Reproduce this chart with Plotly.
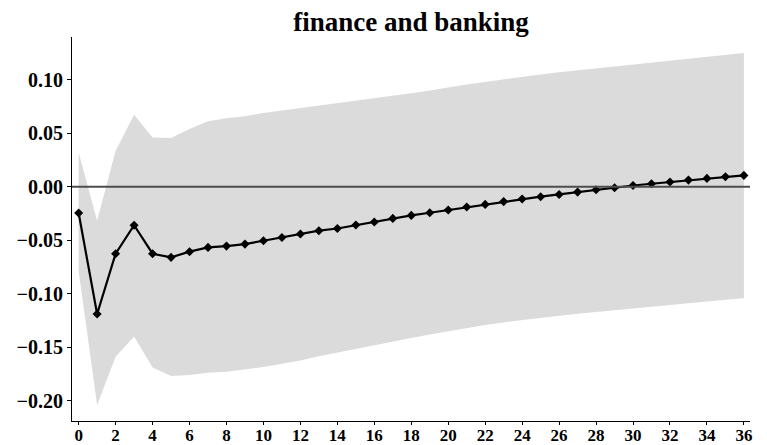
import plotly.graph_objects as go

periods = list(range(37))
response = [-0.0246, -0.119, -0.0626, -0.036, -0.0626, -0.066, -0.0607, -0.0567, -0.0555, -0.0536,
            -0.0505, -0.0474, -0.0442, -0.0411, -0.039, -0.0358, -0.033, -0.0296, -0.0268, -0.0243,
            -0.0217, -0.019, -0.0165, -0.0139, -0.0115, -0.0093, -0.0072, -0.005, -0.0028, -0.0009,
            0.0012, 0.0028, 0.0044, 0.0062, 0.0078, 0.0093, 0.0106]
upper = [0.032, -0.0318, 0.0336, 0.0673, 0.046, 0.0455, 0.054, 0.0612, 0.064, 0.066,
         0.069, 0.0713, 0.0735, 0.076, 0.078, 0.080, 0.0825, 0.085, 0.0873, 0.090,
         0.093, 0.0955, 0.098, 0.1005, 0.103, 0.105, 0.107, 0.1088, 0.1106, 0.1125,
         0.1144, 0.1163, 0.118, 0.1198, 0.1215, 0.1233, 0.125]
lower = [-0.079, -0.204, -0.159, -0.140, -0.169, -0.177, -0.176, -0.174, -0.173, -0.171,
         -0.1685, -0.1655, -0.1625, -0.1585, -0.155, -0.1515, -0.148, -0.1447, -0.1415, -0.1382,
         -0.135, -0.132, -0.1293, -0.1268, -0.1245, -0.1225, -0.1205, -0.1187, -0.117, -0.1152,
         -0.1135, -0.1118, -0.1102, -0.1087, -0.1072, -0.1057, -0.1042]
x_ticks = list(range(0, 37, 2))
y_ticks = [-0.20, -0.15, -0.10, -0.05, 0.00, 0.05, 0.10]
y_tick_text = ["\u22120.20", "\u22120.15", "\u22120.10", "\u22120.05", "0.00", "0.05", "0.10"]

font_family = "Liberation Serif"

fig = go.Figure()
fig.add_trace(go.Scatter(x=periods, y=upper, mode="lines", line=dict(width=0, color="#dbdbdb"),
                         showlegend=False, hoverinfo="skip"))
fig.add_trace(go.Scatter(x=periods, y=lower, mode="lines", line=dict(width=0, color="#dbdbdb"),
                         fill="tonexty", fillcolor="#dbdbdb", showlegend=False, hoverinfo="skip"))
fig.add_trace(go.Scatter(x=periods, y=response, mode="lines+markers",
                         line=dict(color="black", width=2.2),
                         marker=dict(symbol="diamond", size=7, color="black"),
                         showlegend=False))

fig.add_shape(type="line", xref="paper", yref="y", x0=0, x1=1, y0=0, y1=0,
              line=dict(color="#4d4d4d", width=2), layer="above")

# the page body adds an 8px offset; the figure is sized to fit the 767x445 window
fig.update_layout(
    width=759, height=437,
    margin=dict(l=64, r=17, t=29, b=24),
    paper_bgcolor="white", plot_bgcolor="white",
    title=dict(text="finance and banking", x=0.5, xanchor="center",
               xref="paper", y=1 - 14 / 437, yref="container", yanchor="middle",
               font=dict(family=font_family, size=27, color="black", weight="bold")),
    xaxis=dict(range=[-0.36, 36.33], tickvals=x_ticks, showgrid=False, zeroline=False,
               showline=True, linecolor="black", linewidth=1, ticks="outside", ticklen=3,
               tickcolor="black", automargin=False, ticklabelstandoff=-4,
               tickfont=dict(family=font_family, size=17, color="black", weight="bold")),
    yaxis=dict(range=[-0.219, 0.140], tickvals=y_ticks, ticktext=y_tick_text, showgrid=False,
               zeroline=False, showline=True, linecolor="black", linewidth=1, ticks="outside",
               ticklen=4, tickcolor="black", automargin=False,
               tickfont=dict(family=font_family, size=20, color="black", weight="bold")),
)

fig.write_html("out.html")
